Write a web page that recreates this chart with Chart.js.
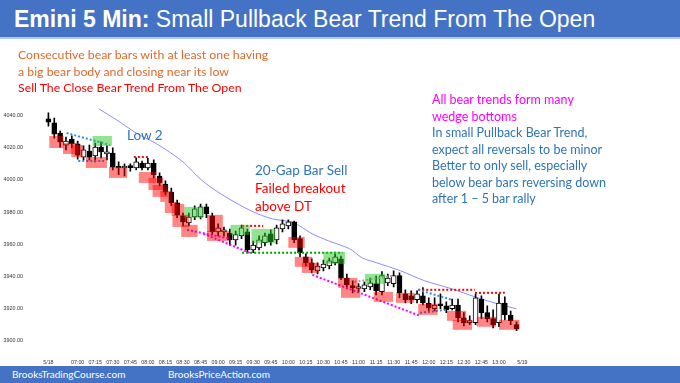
<!DOCTYPE html>
<html>
<head>
<meta charset="utf-8">
<script src="https://cdn.jsdelivr.net/npm/chart.js@4.4.0/dist/chart.umd.min.js"></script>
<style>
  body { margin: 0; width: 680px; height: 383px; overflow: hidden; background: #fff; position: relative; font-family: Lato, "Liberation Sans", sans-serif; }
  #c { position: absolute; left: 0; top: 0; }
  .bar { position: absolute; left: 0; width: 680px; background: #4472C4; color: #fff; }
  #title { top: 0; height: 37px; border-bottom: 2px solid #B4C7E7; font-family: "Liberation Sans", Arial, sans-serif; font-size: 23px; line-height: 37px; white-space: nowrap; }
  #title span { position: absolute; left: 14px; top: 1px; }
  #foot { top: 366px; height: 17px; font-size: 10px; line-height: 17px; }
  .note { position: absolute; white-space: nowrap; }
</style>
</head>
<body>
<canvas id="c" width="680" height="383"></canvas>
<div class="bar" id="title"><span><b>Emini 5 Min:</b> Small Pullback Bear Trend From The Open</span></div>
<div class="bar" id="foot"><span style="position:absolute;left:12px">BrooksTradingCourse.com</span><span style="position:absolute;left:168px">BrooksPriceAction.com</span></div>

<div class="note" style="left:18px;top:47px;font-size:12.3px;line-height:16.5px;color:#E0692A">Consecutive bear bars with at least one having<br>a big bear body and closing near its low<br><span style="color:#FF0000">Sell The Close Bear Trend From The Open</span></div>
<div class="note" style="left:127px;top:126px;font-size:13.5px;line-height:18px;color:#2E75B6">Low 2</div>
<div class="note" style="left:255px;top:161px;font-size:13.5px;line-height:18px;color:#FF0000"><span style="color:#2E75B6">20-Gap Bar Sell</span><br>Failed breakout<br>above DT</div>
<div class="note" style="left:432px;top:92px;font-size:12.5px;line-height:16.5px;color:#2E75B6"><span style="color:#FF00FF">All bear trends form many<br>wedge bottoms</span><br>In small Pullback Bear Trend,<br>expect all reversals to be minor<br>Better to only sell, especially<br>below bear bars reversing down<br>after 1 – 5 bar rally</div>

<script>
// 5 min bars, 06:35 .. 13:15 (bar index 0 .. 80)
const opens = [4038,4035.5,4029.25,4021.75,4025.5,4022.5,4014.25,4018,4015,4020.5,
  4016.25,4016.75,4008,4007.5,4008,4007.5,4010.5,4007.5,4010.5,4002.5,
  3997.5,3992.5,3985.75,3977.75,3973.25,3977,3977,3983.25,3977.75,3967.75,
  3967.75,3967,3962.75,3965.25,3967.75,3956.5,3957.75,3961,3966.5,3962.75,
  3969.5,3971.5,3974,3963.5,3952.25,3948.5,3943.5,3945.25,3946.5,3948.5,
  3951,3939,3934.25,3932.5,3932.25,3933.5,3935.5,3930.5,3936,3935.5,
  3940.5,3929.25,3928,3925.5,3928,3923.5,3920,3922.25,3921.75,3920,
  3922.25,3914.25,3911.25,3911.25,3926,3917.5,3913.75,3911.25,3923.5,3916,
  3910];
const highs = [4041.75,4038.5,4030.5,4026.75,4027.5,4024.25,4021.25,4021.75,4023,4023.75,
  4021.25,4020,4011.25,4010,4010,4013.75,4011.75,4013.5,4012.5,4004.5,
  3999.5,3995,3987.5,3979.5,3979.5,3984,3985,3985,3979.5,3972.75,
  3970.75,3969.5,3968.25,3972,3969.5,3962,3965.25,3967,3969,3972,
  3975.25,3975.25,3974.5,3965.25,3954,3951,3948.5,3950.25,3951.5,3954,
  3952.75,3941.5,3937.25,3935.5,3936.5,3939,3940.25,3943,3941.5,3943.5,
  3942.25,3931.75,3931,3931,3933,3926.75,3926.75,3929.25,3924.25,3926,
  3926,3917.5,3915.5,3929.25,3928,3921.75,3919.25,3929,3927.25,3918.5,
  3911.75];
const lows = [4033.5,4026,4020.5,4018.75,4020,4013,4012.5,4012.5,4011.25,4013.75,
  4012.5,4006.25,4003.25,4002.5,4005.5,4006.25,4006.25,4006.25,4001.25,3996.25,
  3990.75,3984,3976.5,3971.5,3971.5,3975.25,3975.75,3976.5,3966,3965.25,
  3965.25,3959.5,3959.5,3963.5,3955.25,3954.75,3956.5,3959,3959.5,3960.25,
  3967.75,3969.5,3961,3952.25,3946.5,3942.25,3941.5,3943.5,3944.75,3947.25,
  3938,3932.25,3929.75,3930.5,3930.5,3931.75,3928.5,3928.5,3934.25,3933.5,
  3926.75,3923.5,3923,3923.5,3922.25,3918.5,3918.5,3920,3917.5,3919.25,
  3911.75,3909.25,3910,3910,3913.75,3911.75,3908,3908.75,3913,3910,
  3906.25];
const closes = [4036,4028.5,4023.75,4024.25,4022.5,4015.5,4018.75,4014.25,4020.5,4017.5,
  4017.5,4008,4007.5,4008,4007.75,4011.25,4007.5,4010.5,4003.25,3998.25,
  3992.5,3985.75,3978.25,3974,3977,3982,3983.25,3979,3967.75,3970.25,
  3969,3962.75,3966,3970.25,3956.5,3959.5,3962.75,3965.25,3961.5,3970.25,
  3972.75,3974,3962.75,3954.75,3948.5,3944,3946.5,3947.75,3949.75,3952.25,
  3939,3934.75,3933,3933.25,3934.75,3936,3931,3940.5,3939,3940.5,
  3929.75,3925.5,3925.5,3929.25,3923.5,3920.5,3922.25,3921.75,3919.25,3922.25,
  3914.25,3911.25,3911.75,3926.75,3917.5,3913.75,3910,3923.5,3916,3912.5,
  3907.5];

// 20 bar EMA: [bar, price]
const ema = [[8.6,4044.3],[11.7,4037.3],[15,4029.25],[18.25,4023],[20.7,4017.4],[23.2,4010.6],
  [26.15,4000],[28.95,3992.6],[31.75,3986.4],[35.05,3980.1],[38.3,3975.8],[41.6,3973.9],
  [42.9,3971.5],[45.1,3966.5],[47.9,3962.1],[51.5,3957.2],[53.6,3951.6],[56.1,3948.5],
  [60.2,3943.5],[64.3,3937.3],[68.95,3932.3],[72.9,3927.3],[76.7,3923],[80,3919.9]];

const tickLabels = ['5/18','07:00','07:15','07:30','07:45','08:00','08:15','08:30','08:45','09:00',
  '09:15','09:30','09:45','10:00','10:15','10:30','10:45','11:00','11:15','11:30','11:45',
  '12:00','12:15','12:30','12:45','13:00','5/19'];
const tickBars = [0,5,8,11,14,17,20,23,26,29,32,35,38,41,44,47,50,53,56,59,62,65,68,71,74,77,81];
const priceTicks = [3900,3920,3940,3960,3980,4000,4020,4040];

// highlight boxes: [fromBar, toBar, topPrice, bottomPrice]
const redBoxes = [[0.15,2.6,4027.4,4019.9],[2.5,5.1,4023,4016.2],[3.9,5.9,4021.8,4014.3],
  [6.4,10,4014.3,4007.5],[10.35,13.45,4008.1,4001.3],[15.45,18.4,4005,3998.2],
  [17.1,19.6,4001.3,3993.8],[17.8,20.4,3996.9,3989.5],[19.1,21.2,3993.2,3986.4],
  [19.9,21.9,3986.4,3979.5],[21.05,23.2,3985.1,3977.7],[21.2,24,3978.3,3970.8],
  [22.7,25.5,3972.1,3964.6],[27.1,29.8,3978.3,3967.7],[27.1,30.9,3968.3,3962.1],
  [41,43.8,3964.6,3957.8],[42.1,45.1,3952.2,3946],[43.3,46.2,3948.5,3942.2],
  [49.5,52.8,3939.1,3932.9],[50,53.3,3932.9,3926.7],[55.6,58.9,3930.4,3924.2],
  [59.4,62.5,3929.8,3923.6],[63.2,66.5,3923,3916.1],[68.1,71.4,3918.6,3912.4],
  [69.1,72.4,3913,3906.8],[73.2,76.5,3914.9,3908.7],[77,80.5,3913,3906.8]];
const greenBoxes = [[7.55,10.85,4027.4,4021.2],[23.2,26.5,3983.3,3976.4],[31.1,34.4,3972.1,3965.9],
  [34.7,38.8,3969.6,3960.9],[47,50.7,3955.3,3947.8],[54.1,57.6,3941.6,3935.4]];

// dotted guide lines: [fromBar, fromPrice, toBar, toPrice]
const blueDots = [[3.1,4029.25,10.5,4021.8],[5.1,4011.85,9.5,4011.85],[63.2,3931.7,68.9,3925.5],[63.5,3917.4,67.95,3919.2]];
const redDots = [[14.6,4014.3,17.1,4014.3],[33.1,3971.45,36.7,3971.45],[63.2,3931.7,72.9,3931.7],[72.9,3929.8,78,3929.8]];
const magentaDots = [[23.7,3969,31.1,3963.4],[26.5,3966.5,34.4,3954.7],[45.1,3941,63.5,3915.5]];
const greenDots = [[33.1,3954.7,50.3,3954.7]];
const greyDots = [[52.3,3936.6,58.9,3940.4]];

const bars = opens.map((o, i) => i);

function dotted(segs, color) {
  return segs.map(s => ({
    type: 'line',
    data: [{ x: s[0], y: s[1] }, { x: s[2], y: s[3] }],
    borderColor: color,
    borderWidth: 2,
    borderDash: [2, 2],
    pointRadius: 0,
    order: 0
  }));
}

const boxPlugin = {
  id: 'boxes',
  afterDatasetsDraw(chart) {
    const { ctx, scales: { x, y } } = chart;
    ctx.save();
    const draw = (list, color) => {
      ctx.fillStyle = color;
      list.forEach(b => {
        const x0 = x.getPixelForValue(b[0]), x1 = x.getPixelForValue(b[1]);
        const y0 = y.getPixelForValue(b[2]), y1 = y.getPixelForValue(b[3]);
        ctx.fillRect(x0, y0, x1 - x0, y1 - y0);
      });
    };
    draw(greenBoxes, 'rgba(40,200,40,0.5)');
    draw(redBoxes, 'rgba(255,0,0,0.48)');
    ctx.restore();
  }
};

new Chart(document.getElementById('c'), {
  type: 'bar',
  data: {
    datasets: [
      {
        label: 'wick',
        data: bars.map(i => ({ x: i, y: [lows[i], highs[i]] })),
        backgroundColor: '#000',
        barThickness: 1,
        grouped: false,
        order: 3
      },
      {
        label: 'body',
        data: bars.map(i => ({ x: i, y: [opens[i], closes[i]] })),
        backgroundColor: bars.map(i => closes[i] < opens[i] ? '#000' : '#fff'),
        borderColor: '#000',
        borderWidth: 1,
        borderSkipped: false,
        barThickness: 5,
        minBarLength: 2,
        grouped: false,
        order: 2
      },
      {
        type: 'line',
        label: 'ema',
        data: ema.map(p => ({ x: p[0], y: p[1] })),
        borderColor: '#8C8CFF',
        borderWidth: 1,
        pointRadius: 0,
        tension: 0.3,
        order: 4
      },
      ...dotted(blueDots, '#2F8FE0'),
      ...dotted(redDots, '#FF0000'),
      ...dotted(magentaDots, '#FF00FF'),
      ...dotted(greenDots, '#00A000'),
      ...dotted(greyDots, '#A0A0A0')
    ]
  },
  options: {
    responsive: false,
    animation: false,
    layout: { padding: { left: 0, right: 130.5, top: 108, bottom: 0 } },
    plugins: { legend: { display: false }, tooltip: { enabled: false } },
    scales: {
      x: {
        type: 'linear',
        min: -1,
        max: 84,
        grid: { display: false, drawTicks: false },
        border: { display: false },
        afterFit: (s) => { s.height = 31; },
        afterBuildTicks: (s) => { s.ticks = tickBars.map(v => ({ value: v })); },
        ticks: {
          padding: 7,
          maxRotation: 0,
          autoSkip: false,
          color: '#333',
          font: { family: 'Liberation Sans', size: 5.3 },
          callback: (v) => tickLabels[tickBars.indexOf(v)]
        }
      },
      y: {
        min: 3893,
        max: 4044.8,
        grid: { display: false, drawTicks: false },
        border: { display: false },
        afterFit: (s) => { s.width = 33; },
        afterBuildTicks: (s) => { s.ticks = priceTicks.map(v => ({ value: v })); },
        ticks: {
          padding: 10,
          color: '#333',
          font: { family: 'Liberation Sans', size: 5.4 },
          callback: (v) => v.toFixed(2)
        }
      }
    }
  },
  plugins: [boxPlugin]
});
</script>
</body>
</html>
